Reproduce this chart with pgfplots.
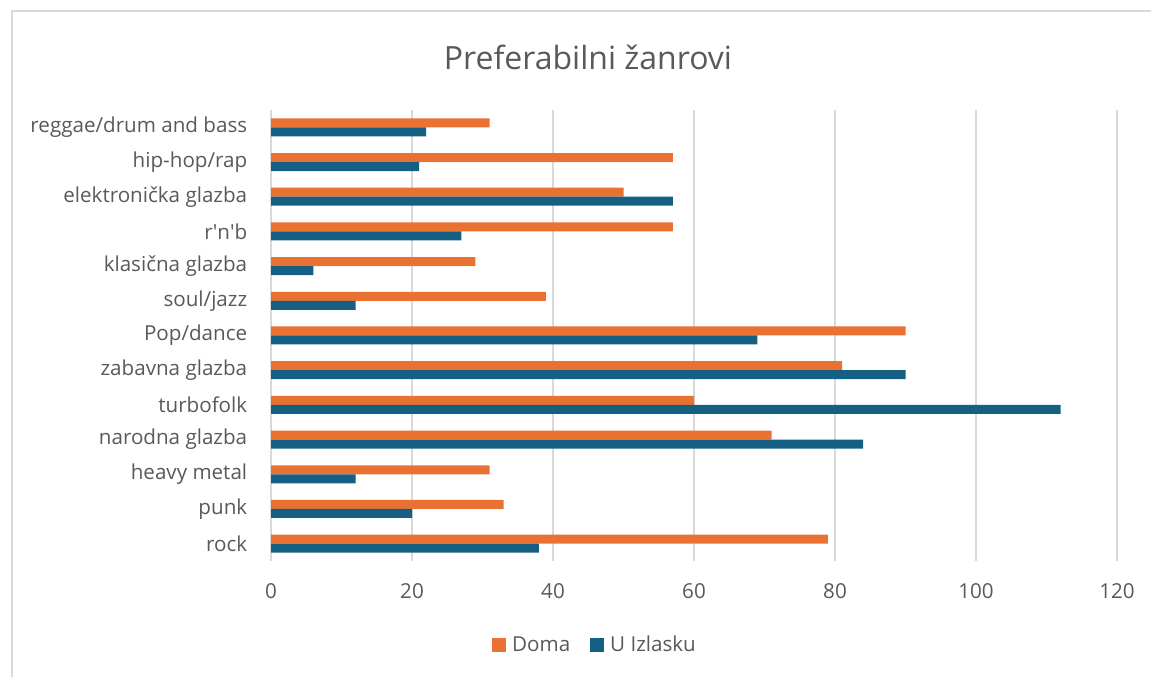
\documentclass[border=0pt]{standalone}
\usepackage{fontspec}
\setmainfont{Open Sans}
\usepackage{pgfplots}
\pgfplotsset{compat=1.18}
\definecolor{cOrange}{HTML}{E97132}
\definecolor{cBlue}{HTML}{156082}
\definecolor{cText}{HTML}{595959}
\definecolor{cGrid}{HTML}{D9D9D9}
\begin{document}
\begin{tikzpicture}[x=1pt,y=1pt]
\useasboundingbox (0,0) rectangle (1151,677);
\draw[cGrid, line width=1.3pt] (12,0) -- (12,666) -- (1151,666);
\node[text=cText, font=\fontsize{32}{38}\selectfont] at (588,620) {Preferabilni žanrovi};
\begin{axis}[
 at={(271pt,116pt)}, anchor=south west,
 scale only axis, width=846pt, height=451pt,
 xbar, bar width=9pt,
 xmin=0, xmax=120, ymin=-0.5, ymax=12.5,
 xtick={0,20,...,120}, ytick={0,...,12},
 yticklabels={rock, punk, heavy metal, narodna glazba, turbofolk, zabavna glazba, Pop/dance, soul/jazz, klasična glazba, r\textquotesingle n\textquotesingle b, elektronička glazba, hip-hop/rap, reggae/drum and bass},
 xmajorgrids, grid style={cGrid, line width=1.3pt},
 axis line style={draw=none}, tick style={draw=none},
 ticklabel style={font=\fontsize{20.6}{24}\selectfont, text=cText},
 yticklabel style={xshift=-16pt},
 xticklabel style={yshift=-19pt},
 /pgf/number format/assume math mode=true,
 legend columns=2,
 legend style={at={(0.383,-0.186)}, anchor=center, draw=none, fill=none,
   font=\fontsize{20.6}{24}\selectfont, text=cText,
   /tikz/every odd column/.append style={column sep=4pt},
   /tikz/every even column/.append style={column sep=18pt}},
 legend image code/.code={\draw[#1,draw=none] (0pt,-7pt) rectangle (14pt,7pt);},
]
\addplot[fill=cOrange, draw=none, bar shift=4.5pt] coordinates {(79,0) (33,1) (31,2) (71,3) (60,4) (81,5) (90,6) (39,7) (29,8) (57,9) (50,10) (57,11) (31,12)};
\addplot[fill=cBlue, draw=none, bar shift=-4.5pt] coordinates {(38,0) (20,1) (12,2) (84,3) (112,4) (90,5) (69,6) (12,7) (6,8) (27,9) (57,10) (21,11) (22,12)};
\legend{Doma, U Izlasku}
\end{axis}
\end{tikzpicture}
\end{document}
